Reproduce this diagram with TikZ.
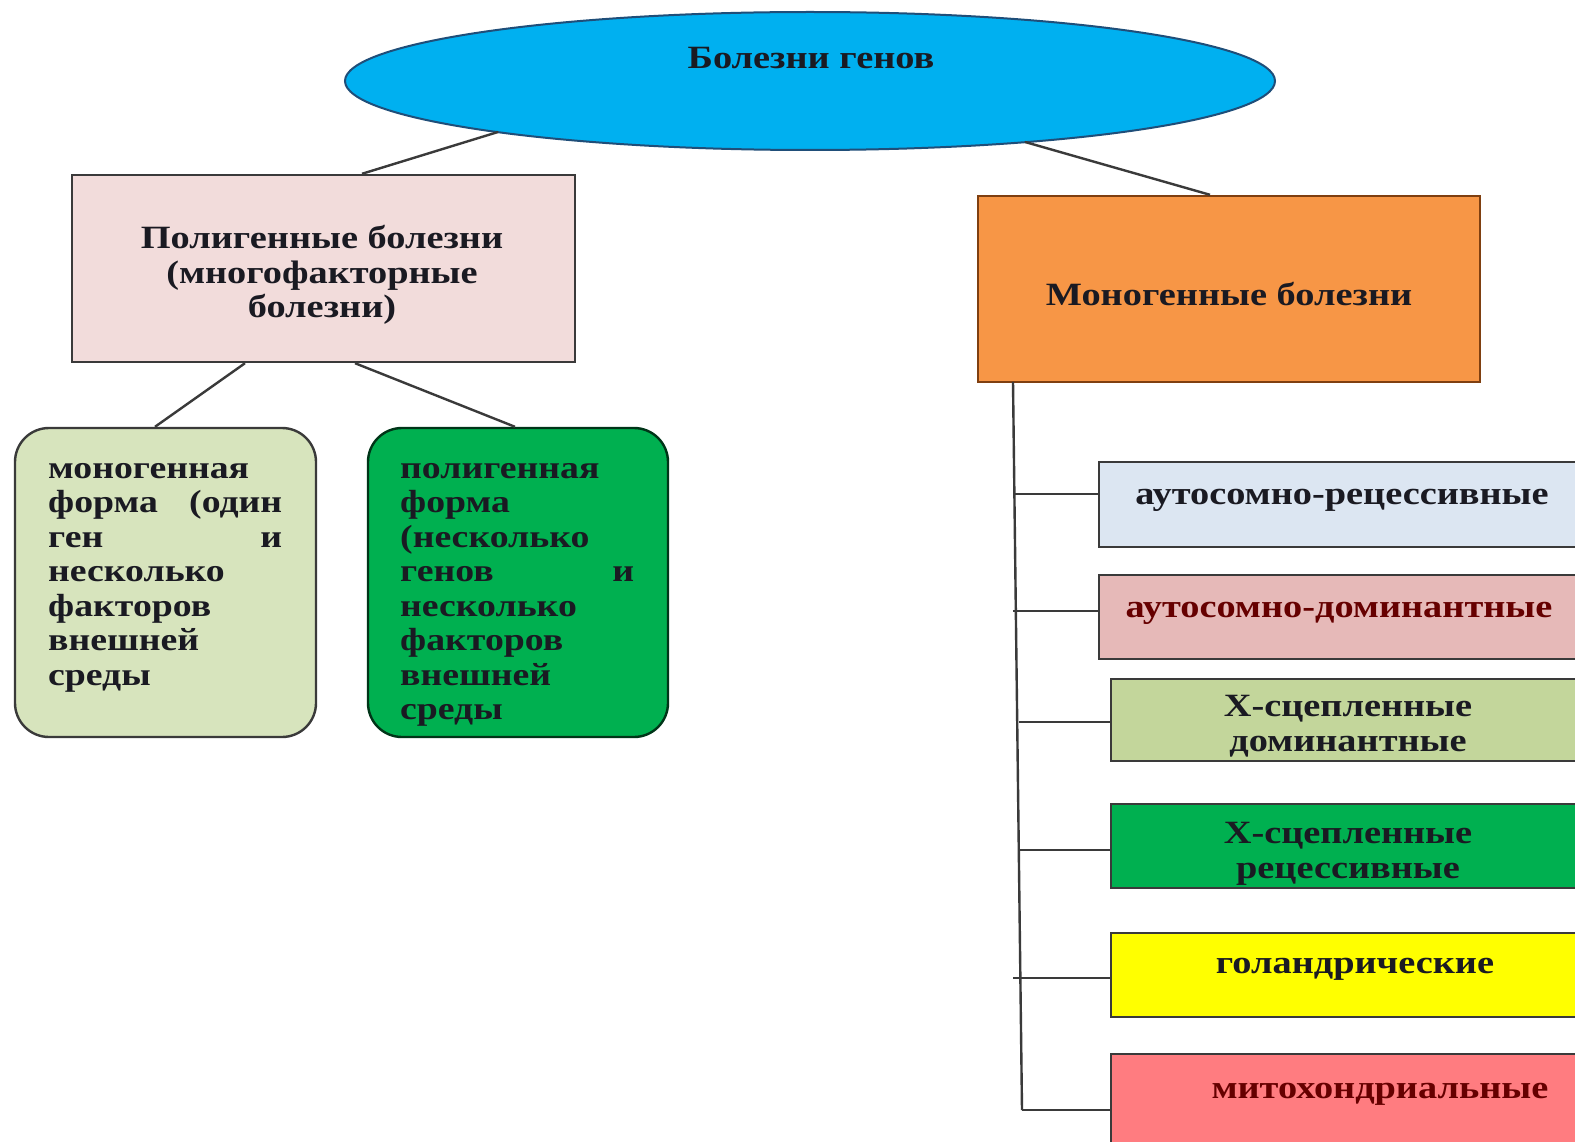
\documentclass[tikz,border=0pt]{standalone}
\usepackage{fontspec}
\setmainfont[FakeStretch=1.18]{Liberation Serif}
\usetikzlibrary{shapes.geometric,calc}
\definecolor{ellfill}{HTML}{00B0F0}
\definecolor{ellline}{HTML}{1F4E79}
\definecolor{polyfill}{HTML}{F2DCDB}
\definecolor{monofill}{HTML}{F79646}
\definecolor{monoline}{HTML}{7F3F10}
\definecolor{lgreen}{HTML}{D7E4BD}
\definecolor{dgreen}{HTML}{00B050}
\definecolor{rA}{HTML}{DCE6F2}
\definecolor{rB}{HTML}{E6B9B8}
\definecolor{rC}{HTML}{C3D69B}
\definecolor{rE}{HTML}{FFFF00}
\definecolor{rF}{HTML}{FF7C80}
\definecolor{ink}{HTML}{1A1A22}
\definecolor{linkc}{HTML}{3A3A3A}
\newcommand{\jline}[2]{\leavevmode\hbox to 234pt{#1\hfill #2}}
\begin{document}
\begin{tikzpicture}[x=1pt,y=-1pt,
  box/.style={draw=linkc,line width=2.4pt,inner sep=0pt,rectangle},
  rbox/.style={box,rounded corners=34pt},
  txt/.style={inner sep=0pt,text=ink,font=\fontsize{32.5}{34.5}\selectfont\bfseries,align=center},
  ltxt/.style={inner sep=0pt,text=ink,font=\fontsize{32}{34.5}\selectfont\bfseries,align=left,text width=234pt,anchor=north west},
  link/.style={draw=linkc,line width=2.4pt}]
\useasboundingbox (0,0) rectangle (1575,1142);
\clip (0,0) rectangle (1575,1142);
\fill[white] (0,0) rectangle (1575,1142);

% root ellipse
\node[ellipse,draw=ellline,line width=2pt,fill=ellfill,minimum width=930pt,minimum height=138pt,inner sep=0pt] (root) at (810,81) {};
\node[txt] (rootT) at (811,58) {Болезни генов};

% second level
\node[box,fill=polyfill,minimum width=503pt,minimum height=187pt] (poly) at (323.5,268.5) {};
\node[txt] (polyT) at (322,275) {Полигенные болезни\\(многофакторные\\болезни)};
\node[box,draw=monoline,fill=monofill,minimum width=502pt,minimum height=186pt] (mono) at (1229,289) {};
\node[txt] (monoT) at (1229,294) {Моногенные болезни};

\coordinate (e1) at (498,132);
\coordinate (e2) at (1025,142);
\draw[link] (e1) -- (poly.north -| 362,0);
\draw[link] (e2) -- (mono.north -| 1210,0);

% polygenic children
\node[rbox,fill=lgreen,minimum width=301pt,minimum height=309pt] (mform) at (165.5,582.5) {};
\node[rbox,draw=black!70!dgreen,fill=dgreen,minimum width=300pt,minimum height=309pt] (pform) at (518,582.5) {};
\node[ltxt] (mformT) at (48,463) {моногенная\\\jline{форма}{(один}\\\jline{ген}{и}\\несколько\\факторов\\внешней\\среды};
\node[ltxt] (pformT) at (400,463) {полигенная\\форма\\(несколько\\\jline{генов}{и}\\несколько\\факторов\\внешней\\среды};
\draw[link] (poly.south -| 245,0) -- (mform.north -| 155,0);
\draw[link] (poly.south -| 355,0) -- (pform.north -| 515,0);

% monogenic children
\node[box,fill=rA,minimum width=500pt,minimum height=85pt,anchor=north west] (r1) at (1098,461) {};
\node[box,fill=rB,minimum width=500pt,minimum height=84pt,anchor=north west] (r2) at (1098,574) {};
\node[box,fill=rC,minimum width=500pt,minimum height=82pt,anchor=north west] (r3) at (1110,678) {};
\node[box,fill=dgreen,minimum width=500pt,minimum height=84pt,anchor=north west] (r4) at (1110,803) {};
\node[box,fill=rE,minimum width=500pt,minimum height=84pt,anchor=north west] (r5) at (1110,932) {};
\node[box,fill=rF,minimum width=500pt,minimum height=100pt,anchor=north west] (r6) at (1110,1053) {};

\node[txt] (r1T) at (1342,500) {аутосомно-рецессивные};
\node[txt,text=black!60!red] (r2T) at (1339,613) {аутосомно-доминантные};
\node[txt] (r3T) at (1348,726) {Х-сцепленные\\доминантные};
\node[txt] (r4T) at (1348,854) {Х-сцепленные\\рецессивные};
\node[txt] (r5T) at (1355,969) {голандрические};
\node[txt,text=black!60!red] (r6T) at (1380,1094) {митохондриальные};

\coordinate (vtop) at (1013,382);
\coordinate (vbot) at (1022,1110);
\draw[link] (vtop) -- (vbot);
\coordinate (b1) at (1014,494);
\coordinate (b2) at (1013,611);
\coordinate (b3) at (1019,722);
\coordinate (b4) at (1020,850);
\coordinate (b5) at (1013,978);
\coordinate (b6) at (1022,1110);
\draw[link] (b1) -- (b1 -| r1.west);
\draw[link] (b2) -- (b2 -| r2.west);
\draw[link] (b3) -- (b3 -| r3.west);
\draw[link] (b4) -- (b4 -| r4.west);
\draw[link] (b5) -- (b5 -| r5.west);
\draw[link] (b6) -- (b6 -| r6.west);
\end{tikzpicture}
\end{document}
